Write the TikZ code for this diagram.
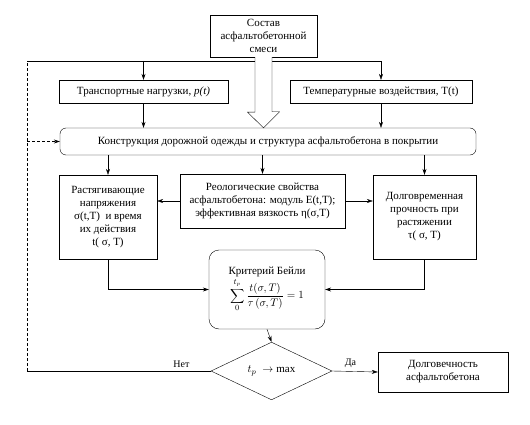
\documentclass[tikz,border=0pt]{standalone}
\usepackage{fontspec}
\setmainfont{Liberation Serif}
\usetikzlibrary{shapes.geometric,arrows.meta}

\begin{document}
\begin{tikzpicture}[x=1pt,y=-1pt,
    box/.style={draw, thin, align=center, inner sep=1pt, font=\fontsize{11}{13}\selectfont},
    roundbox/.style={box, rounded corners=6pt},
    decision/.style={diamond, draw, thin, minimum width=121pt, minimum height=52pt, inner sep=0pt, font=\fontsize{11}{13}\selectfont},
    arr/.style={-{Stealth[length=6pt,width=4pt]}, thin},
    fb/.style={thin, densely dashed},
    ]

    \useasboundingbox (0,0) rectangle (530,425);

    \node[box, minimum width=107pt, minimum height=42pt] (mix) at (263.5,36) {Состав\\асфальтобетонной\\смеси};
    \node[box, minimum width=169pt, minimum height=23pt] (load) at (143.5,91.5) {Транспортные нагрузки, \textit{p(t)}};
    \node[box, minimum width=182pt, minimum height=23pt] (temp) at (381,91.5) {Температурные воздействия, T(t)};
    \node[roundbox, minimum width=416pt, minimum height=27pt] (road) at (268,141.5) {Конструкция дорожной одежды и структура асфальтобетона в покрытии};
    \node[box, minimum width=98pt, minimum height=84pt] (stress) at (108,217) {Растягивающие\\напряжения\\σ(t,T) \ и время\\их действия\\t( σ, T)};
    \node[box, minimum width=165pt, minimum height=54pt] (rheo) at (262.5,201) {Реологические свойства\\асфальтобетона: модуль E(t,T);\\эффективная вязкость η(σ,T)};
    \node[box, minimum width=103pt, minimum height=84pt] (strength) at (424.5,217) {Долговременная\\прочность при\\растяжении\\τ( σ, T)};
    \node[roundbox, rounded corners=10pt, minimum width=116pt, minimum height=79pt] (bailey) at (267,289.5) {Критерий Бейли\\[1pt] $\displaystyle\sum_{0}^{t_p}\frac{t(\sigma,T)}{\tau\,(\sigma,T)}=1$};
    \node[decision] (max) at (271.5,371) {$t_p\;\rightarrow\mathrm{max}$};
    \node[box, minimum width=130pt, minimum height=40pt] (life) at (443,372) {Долговечность\\асфальтобетона};

    \coordinate (c1) at (27,371);
    \coordinate (c2) at (27,61);

    % feedback loop
    \draw[thin] (max.west) -- node[pos=0.16, above] {Нет} (c1);
    \draw[fb] (c1) -- (c2);
    \draw[arr] (c2) -| (temp.north);
    \draw[arr] (load.north |- c2) -- (load.north);
    \draw[fb, -{Stealth[length=6pt,width=4pt]}] (c2 |- road.west) -- (road.west);

    % hollow arrow
    \draw[thin, fill=white] ([xshift=-8.5pt]mix.south) -- ++(0,55) -- ++(-7.5,0) -- ([yshift=0pt]mix.south |- road.north) -- ++(16,-16) -- ++(-7.5,0) -- ([xshift=8.5pt]mix.south);

    \draw[arr] (load.south) -- (load.south |- road.north);
    \draw[arr] (temp.south) -- (temp.south |- road.north);
    \draw[arr] (road.south -| stress.north) -- (stress.north);
    \draw[arr] (road.south -| rheo.north) -- (rheo.north);
    \draw[arr] (road.south -| strength.north) -- (strength.north);
    \draw[arr] (rheo.west) -- (rheo.west -| stress.east);
    \draw[arr] (rheo.east) -- (rheo.east -| strength.west);
    \draw[arr] (stress.south) |- (bailey.west);
    \draw[arr] (strength.south) |- (bailey.east);
    \draw[arr] (bailey.south) -- (max.north);
    \draw[arr] (max.east) -- node[pos=0.4, above] {Да} (life.west);
\end{tikzpicture}
\end{document}
